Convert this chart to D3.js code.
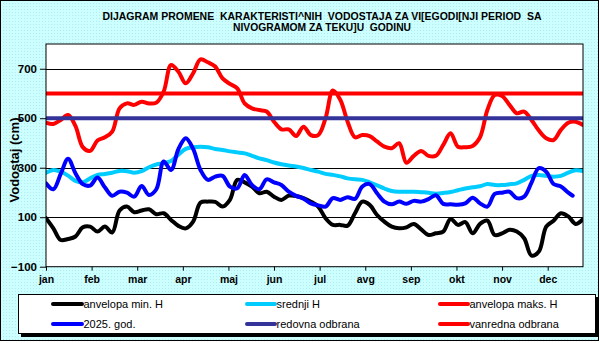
<!DOCTYPE html>
<html><head><meta charset="utf-8">
<script src="https://cdn.jsdelivr.net/npm/d3@7"></script>
<style>html,body{margin:0;padding:0;background:#fff}svg{display:block}</style>
</head><body><svg id="c" width="600" height="343"></svg>
<script>
// ---- data ----
const months = ["jan","feb","mar","apr","maj","jun","jul","avg","sep","okt","nov","dec"];
const monthDays = [0,31,62,93,124,155,186,217,248,279,310,341];
const yTicks = [-100,100,300,500,700];
const days = d3.range(0, 366, 5);
const minH = [96,55,8,12,22,59,62,42,62,38,127,143,120,127,132,112,116,89,65,55,82,159,163,162,143,170,251,241,224,197,203,183,170,187,186,177,163,143,96,69,69,66,116,163,150,109,82,62,55,59,73,51,28,35,42,93,69,80,35,73,86,28,35,49,42,15,-55,-39,62,86,116,103,73,92];
const srednjiH = [280,291,284,268,247,241,257,271,275,280,287,286,280,286,302,313,318,327,353,376,383,385,383,376,372,366,362,358,348,338,331,321,314,309,305,299,291,284,275,271,265,257,253,251,241,229,216,206,203,203,203,201,199,195,198,202,209,216,221,225,234,230,230,233,237,251,267,271,267,264,267,280,290,287];
const maxH = [482,477,493,513,469,383,368,410,423,446,540,560,554,567,560,563,608,715,688,641,682,738,726,709,661,639,621,560,540,533,527,486,455,455,428,466,432,432,500,612,575,486,423,432,428,406,385,379,399,320,348,368,348,348,392,439,385,383,388,423,533,594,590,554,520,527,493,450,419,412,453,482,486,473];
const days2025 = days.slice(0, 72).concat([358]);
const god2025 = [237,213,275,336,278,234,228,260,221,187,203,199,183,226,190,213,325,291,375,419,376,291,251,264,267,224,217,271,230,213,253,241,230,203,186,175,156,148,143,177,170,181,174,224,234,197,163,152,163,154,166,163,173,189,154,152,150,156,179,156,143,194,199,203,177,183,240,298,284,234,224,199,187];
const redovna = 500;
const vanredna = 600;
const titleLines = ["DIJAGRAM PROMENE  KARAKTERISTI^NIH  VODOSTAJA ZA VI[EGODI[NJI PERIOD  SA","NIVOGRAMOM ZA TEKU]U  GODINU"];
const legendNames = ["anvelopa min. H","srednji H","anvelopa maks. H","2025. god.","redovna odbrana","vanredna odbrana"];
const colors = {min:"#000000", sred:"#00ccff", max:"#ff0000", god:"#0000ff", red:"#333399", van:"#ff0000"};

// ---- drawing ----
const svg = d3.select("#c");
const FONT = "'Liberation Sans', Arial, sans-serif";
const defs = svg.append("defs");
const pat = defs.append("pattern").attr("id","dots").attr("width",3).attr("height",3).attr("patternUnits","userSpaceOnUse");
pat.append("rect").attr("width",3).attr("height",3).attr("fill","#ccffff");
pat.append("rect").attr("x",0).attr("y",0).attr("width",1).attr("height",1).attr("fill","#b6e9e9");

svg.append("rect").attr("x",0.5).attr("y",0.5).attr("width",598).attr("height",340)
  .attr("fill","url(#dots)").attr("stroke","#000").attr("stroke-width",1);

const X0=46, X1=583, Y0=44, Y1=266.7;
const x = d3.scaleLinear().domain([0,365]).range([X0,X1]);
const y = d3.scaleLinear().domain([-100,800]).range([Y1,Y0]);

svg.append("rect").attr("x",X0).attr("y",Y0).attr("width",X1-X0).attr("height",Y1-Y0).attr("fill","#fff");

// gridlines
svg.append("g").selectAll("line").data(yTicks.filter(d=>d>-100)).join("line")
  .attr("x1",X0).attr("x2",X1).attr("y1",d=>Math.round(y(d))+0.5).attr("y2",d=>Math.round(y(d))+0.5)
  .attr("stroke","#000").attr("stroke-width",1);

const clip = defs.append("clipPath").attr("id","pc");
clip.append("rect").attr("x",X0).attr("y",Y0).attr("width",X1-X0).attr("height",Y1-Y0);
const g = svg.append("g").attr("clip-path","url(#pc)");

function drawSeries(dx, vals, col){
  const line = d3.line().x((d,i)=>x(dx[i])).y(d=>y(d)).curve(d3.curveCatmullRom.alpha(0.5));
  g.append("path").attr("d", line(vals)).attr("fill","none").attr("stroke",col)
   .attr("stroke-width",4).attr("stroke-linejoin","round").attr("stroke-linecap","round");
}
drawSeries(days, minH, colors.min);
drawSeries(days, srednjiH, colors.sred);
drawSeries(days, maxH, colors.max);
drawSeries(days2025, god2025, colors.god);
function hline(v,col){
  g.append("line").attr("x1",x(0)).attr("x2",x(365)).attr("y1",y(v)).attr("y2",y(v))
   .attr("stroke",col).attr("stroke-width",4);
}
hline(redovna, colors.red);
hline(vanredna, colors.van);

svg.append("rect").attr("x",X0).attr("y",Y0).attr("width",X1-X0).attr("height",Y1-Y0)
  .attr("fill","none").attr("stroke","#000").attr("stroke-width",1);

// axes
const xa = svg.append("g").attr("transform",`translate(0,${Y1})`)
  .call(d3.axisBottom(x).tickValues(monthDays).tickFormat((d,i)=>months[i]).tickSize(4).tickPadding(4.5));
xa.select(".domain").remove();
xa.selectAll("text").attr("font-family",FONT).attr("font-size",10.5).attr("font-weight","bold").attr("fill","#000");
xa.selectAll("line").attr("stroke","#000");

const ya = svg.append("g").attr("transform",`translate(${X0},0)`)
  .call(d3.axisLeft(y).tickValues(yTicks).tickSize(6).tickPadding(3));
ya.select(".domain").remove();
ya.selectAll("text").attr("font-family",FONT).attr("font-size",11.5).attr("font-weight","bold").attr("fill","#000");
ya.selectAll("line").attr("stroke","#000");

svg.append("text").attr("transform","translate(14,160) rotate(-90)").attr("text-anchor","middle")
  .attr("dy","0.35em").attr("font-family",FONT).attr("font-size",13).attr("font-weight","bold").text("Vodostaj (cm)");

// title
const tl = [[19.5,439],[30.5,178]];
titleLines.forEach((t,i)=>{
  svg.append("text").attr("x",322).attr("y",tl[i][0]).attr("text-anchor","middle")
    .style("white-space","pre").attr("textLength",tl[i][1]).attr("lengthAdjust","spacingAndGlyphs")
    .attr("font-family",FONT).attr("font-size",11).attr("font-weight","bold").text(t);
});

// legend
svg.append("rect").attr("x",21).attr("y",297).attr("width",578).attr("height",40).attr("fill","#000");
svg.append("rect").attr("x",18.5).attr("y",294.5).attr("width",577).attr("height",39).attr("fill","#fff").attr("stroke","#000");
const legCols = [[53,82],[247,275],[440,468]];
const legRows = [304,324];
const legColors = [colors.min,colors.sred,colors.max,colors.god,colors.red,colors.van];
legendNames.forEach((n,i)=>{
  const c = legCols[i%3], r = legRows[Math.floor(i/3)];
  svg.append("line").attr("x1",c[0]).attr("x2",c[1]).attr("y1",r).attr("y2",r)
    .attr("stroke",legColors[i]).attr("stroke-width",4).attr("stroke-linecap","round");
  svg.append("text").attr("x",c[1]+1.5).attr("y",r).attr("dy","0.35em").attr("font-family",FONT)
    .attr("font-size",11).text(n);
});
</script></body></html>
